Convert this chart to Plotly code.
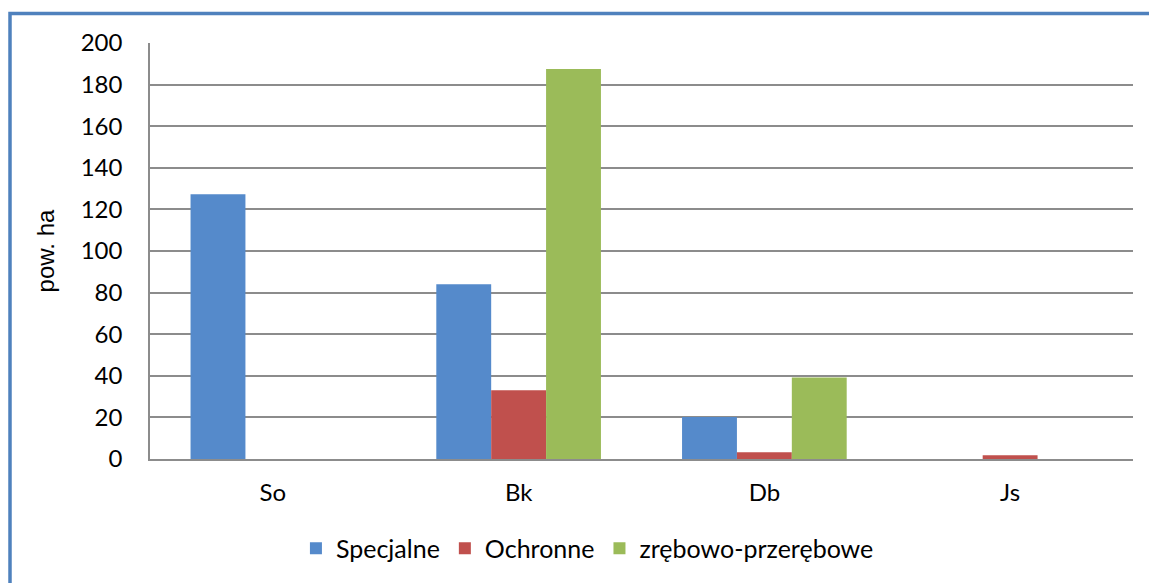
import plotly.graph_objects as go

categories = ["So", "Bk", "Db", "Js"]
specjalne = [127.3, 84, 20.2, 0]
ochronne = [0, 33, 3.3, 1.8]
zrebowo = [0, 187.5, 39.2, 0]
series_names = ["Specjalne", "Ochronne", "zrębowo-przerębowe"]
colors = ["#558ACB", "#C0504D", "#9BBB59"]
y_ticks = list(range(0, 201, 20))

fig = go.Figure()
for name, vals, col in zip(series_names, [specjalne, ochronne, zrebowo], colors):
    fig.add_trace(go.Bar(x=categories, y=vals, name=name, marker=dict(color=col, line=dict(width=0))))

font_main = "Lato, Calibri, 'Open Sans', sans-serif"
fig.update_layout(
    width=1149, height=583,
    margin=dict(l=150, r=16, t=43, b=124, autoexpand=False),
    paper_bgcolor="white", plot_bgcolor="white",
    barmode="group", bargap=0.33, bargroupgap=0,
    font=dict(family=font_main, size=24, color="black"),
    showlegend=True,
    legend=dict(orientation="h", x=0.445, xanchor="center", y=-0.215, yanchor="middle",
                font=dict(size=25, family=font_main), itemwidth=30, traceorder="normal"),
    xaxis=dict(showgrid=False, showline=True, linecolor="#8C8C8C", linewidth=1.5,
               ticks="outside", ticklen=11, tickcolor="rgba(0,0,0,0)",
               tickfont=dict(size=24, family=font_main), fixedrange=True),
    yaxis=dict(range=[0, 200], tickvals=y_ticks, showgrid=True, gridcolor="#8C8C8C", gridwidth=1.5,
               showline=True, linecolor="#8C8C8C", linewidth=1.5, zeroline=False,
               ticks="", ticklabelstandoff=21,
               tickfont=dict(size=24, family=font_main),
               title=dict(text="pow. ha", font=dict(family="'Liberation Sans', Arial, sans-serif", size=24), standoff=19),
               fixedrange=True),
    shapes=[dict(type="rect", xref="paper", yref="paper",
                 x0=(10 - 150) / 983, x1=1.08, y0=-0.5, y1=1 + (43 - 13.5) / 416,
                 line=dict(color="#4F81BD", width=3.5), fillcolor="rgba(0,0,0,0)", layer="below")],
)

fig.write_html("out.html", config={"displayModeBar": False},
               post_script="document.body.style.margin='0';document.body.style.overflow='hidden';")
